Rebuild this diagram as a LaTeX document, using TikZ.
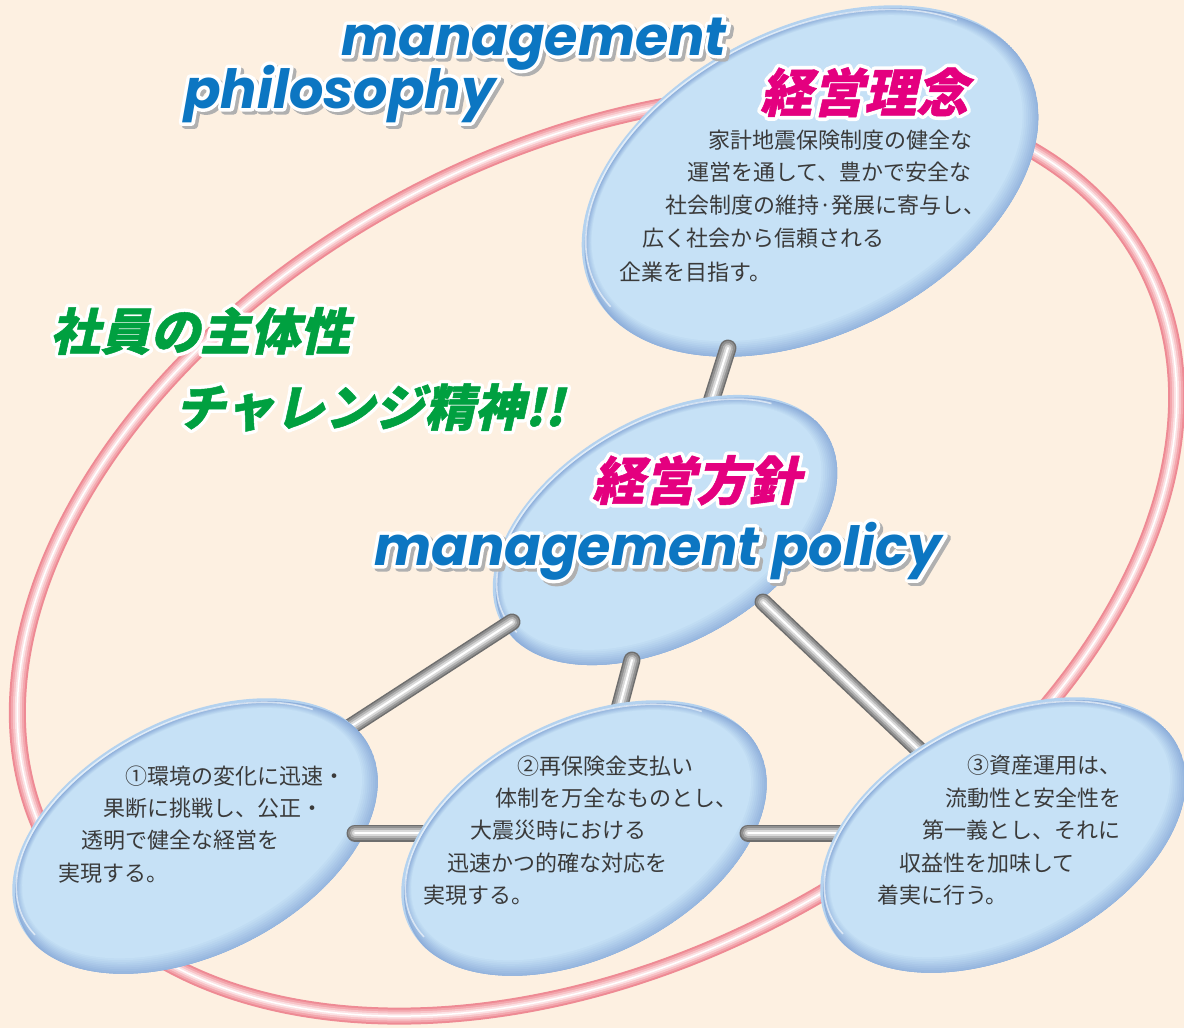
\documentclass[tikz,border=0pt]{standalone}
\usepackage{fontspec}
\newfontfamily\jpfont{Noto Sans CJK JP}
\newfontfamily\jpslant[FakeSlant=0.22, FakeBold=1]{Noto Sans CJK JP}
\newfontfamily\jpslantout[FakeSlant=0.22, FakeBold=15]{Noto Sans CJK JP}
\newfontfamily\enfont{Poppins}
\newfontfamily\enfontout[FakeBold=13]{Poppins}
\definecolor{bgcream}{HTML}{FDF0E1}
\definecolor{ringA}{HTML}{EE8A94}
\definecolor{ringB}{HTML}{F3A6AD}
\definecolor{ringC}{HTML}{F8C4C8}
\definecolor{ringD}{HTML}{FCE2E4}
\definecolor{rimlight}{HTML}{B4D2EF}
\definecolor{rimdark}{HTML}{8DAEDA}
\definecolor{lensin}{HTML}{C6E1F6}
\definecolor{barA}{HTML}{6E6E6E}
\definecolor{barB}{HTML}{909090}
\definecolor{barC}{HTML}{B4B4B4}
\definecolor{barD}{HTML}{DADADA}
\definecolor{titlemag}{HTML}{E4007F}
\definecolor{titlegreen}{HTML}{00A040}
\definecolor{engblue}{HTML}{0C76C2}
\definecolor{shadowgray}{HTML}{B0B0B0}
\definecolor{bodygray}{HTML}{3A3A3A}
% round line joins for the outline strokes
\newcommand{\roundjoin}{\special{pdf:literal direct 1 j 1 J}}
% English text with white outline and grey drop shadow
\newcommand{\entxt}[1]{\roundjoin\rlap{\hspace{3pt}\raisebox{-3pt}{\enfontout\textcolor{shadowgray}{#1}}}\rlap{\enfontout\textcolor{white}{#1}}#1}
% Japanese title with white outline
\newcommand{\jptxt}[1]{\roundjoin\rlap{\jpslantout\textcolor{white}{#1}}#1}
\newcommand{\lens}[5]{%
  \begin{scope}[shift={(#1,#2)}, rotate=#5]
    \begin{scope}
      \clip (0,0) ellipse [x radius=#3, y radius=#4];
      \fill[rimlight] (0,0) ellipse [x radius=#3, y radius=#4];
      \fill[rimdark] (1.2,3.8) ellipse [x radius=#3, y radius=#4];
      \foreach \k in {1,...,10}{
        \pgfmathsetmacro{\mixv}{\k*10}
        \fill[lensin!\mixv!rimdark] ({1.2-0.248*\k},{3.8-0.76*\k}) ellipse [x radius={#3-1.3*\k}, y radius={#4-1.3*\k}];
      }
      \draw[white, opacity=.6, line width=1.6] (-1.3,-3.8) ++(170:{#3-7} and {#4-7}) arc [start angle=170, end angle=330, x radius={#3-7}, y radius={#4-7}];
    \end{scope}
  \end{scope}}
\newcommand{\tube}[2]{%
  \foreach \w/\c in {17/barA,14/barB,10/barC,6/barD,2/white}{
    \draw[line width=\w pt, \c, line cap=round] (#1) -- (#2);
  }}
\tikzset{
  bodytxt/.style={font=\jpfont\fontsize{22}{22}\selectfont, text=bodygray, inner sep=0pt, anchor=base west},
  jtitle/.style={font=\jpslant\bfseries\fontsize{52}{52}\selectfont, text=titlemag, inner sep=0pt, anchor=base west},
  gtitle/.style={font=\jpslant\bfseries\fontsize{50}{50}\selectfont, text=titlegreen, inner sep=0pt, anchor=base west},
  etitle/.style={font=\enfont\bfseries\itshape\fontsize{54}{54}\selectfont, text=engblue, inner sep=0pt, anchor=base west},
}
\begin{document}
\begin{tikzpicture}[x=1pt, y=-1pt]
\fill[bgcream] (0,0) rectangle (1184,1028);
\useasboundingbox (0,0) rectangle (1184,1028);
% ring
\foreach \w/\c in {17/ringA,13/ringB,9/ringC,5/ringD,1.5/white}{
  \draw[line width=\w pt, \c, rotate around={28:(597,555)}] (597,555) ellipse [x radius=620, y radius=405];
}
% connector end points
\coordinate (tA) at (728,348);
\coordinate (tB) at (710,405);
\coordinate (c1A) at (512,622);
\coordinate (c1B) at (330,740);
\coordinate (c2A) at (632,660);
\coordinate (c2B) at (616,720);
\coordinate (c3A) at (763,602);
\coordinate (c3B) at (935,765);
\coordinate (h1A) at (355,833);
\coordinate (h1B) at (430,833);
\coordinate (h2A) at (748,833);
\coordinate (h2B) at (850,833);
% lenses and tubes
\lens{810}{181}{244}{153}{27}
\tube{tA}{tB}
\lens{665}{530}{188}{112}{30}
\tube{c1A}{c1B}
\tube{c2A}{c2B}
\tube{c3A}{c3B}
\lens{195}{836}{196}{118}{27}
\tube{h1A}{h1B}
\lens{584}{838}{196}{118}{27}
\tube{h2A}{h2B}
\lens{1003}{835}{196}{118}{27}
% titles
\node[etitle] (mgmt) at (341,55) {\entxt{management}};
\node[etitle] (philo) at (184,108) {\entxt{philosophy}};
\node[jtitle] (rinen) at (760,112) {\jptxt{経営理念}};
\node[gtitle] (shutai) at (50,350) {\jptxt{社員の主体性}};
\node[gtitle] (challenge) at (175,426) {\jptxt{チャレンジ精神!!}};
\node[jtitle] (hoshin) at (592,500) {\jptxt{経営方針}};
\node[etitle] (policy) at (374,565) {\entxt{management policy}};
% body texts
\node[bodytxt] (r1) at (708,148) {家計地震保険制度の健全な};
\node[bodytxt] (r2) at (687,180) {運営を通して、豊かで安全な};
\node[bodytxt] (r3) at (665,213) {社会制度の維持·発展に寄与し、};
\node[bodytxt] (r4) at (642,246) {広く社会から信頼される};
\node[bodytxt] (r5) at (619,280) {企業を目指す。};
\node[bodytxt] (a1) at (125,784) {①環境の変化に迅速・};
\node[bodytxt] (a2) at (103,816) {果断に挑戦し、公正・};
\node[bodytxt] (a3) at (81,848) {透明で健全な経営を};
\node[bodytxt] (a4) at (58,881) {実現する。};
\node[bodytxt] (b1) at (517,774) {②再保険金支払い};
\node[bodytxt] (b2) at (495,806) {体制を万全なものとし、};
\node[bodytxt] (b3) at (470,838) {大震災時における};
\node[bodytxt] (b4) at (447,871) {迅速かつ的確な対応を};
\node[bodytxt] (b5) at (423,903) {実現する。};
\node[bodytxt] (d1) at (967,773) {③資産運用は、};
\node[bodytxt] (d2) at (945,806) {流動性と安全性を};
\node[bodytxt] (d3) at (922,838) {第一義とし、それに};
\node[bodytxt] (d4) at (899,871) {収益性を加味して};
\node[bodytxt] (d5) at (877,903) {着実に行う。};
\end{tikzpicture}
\end{document}
